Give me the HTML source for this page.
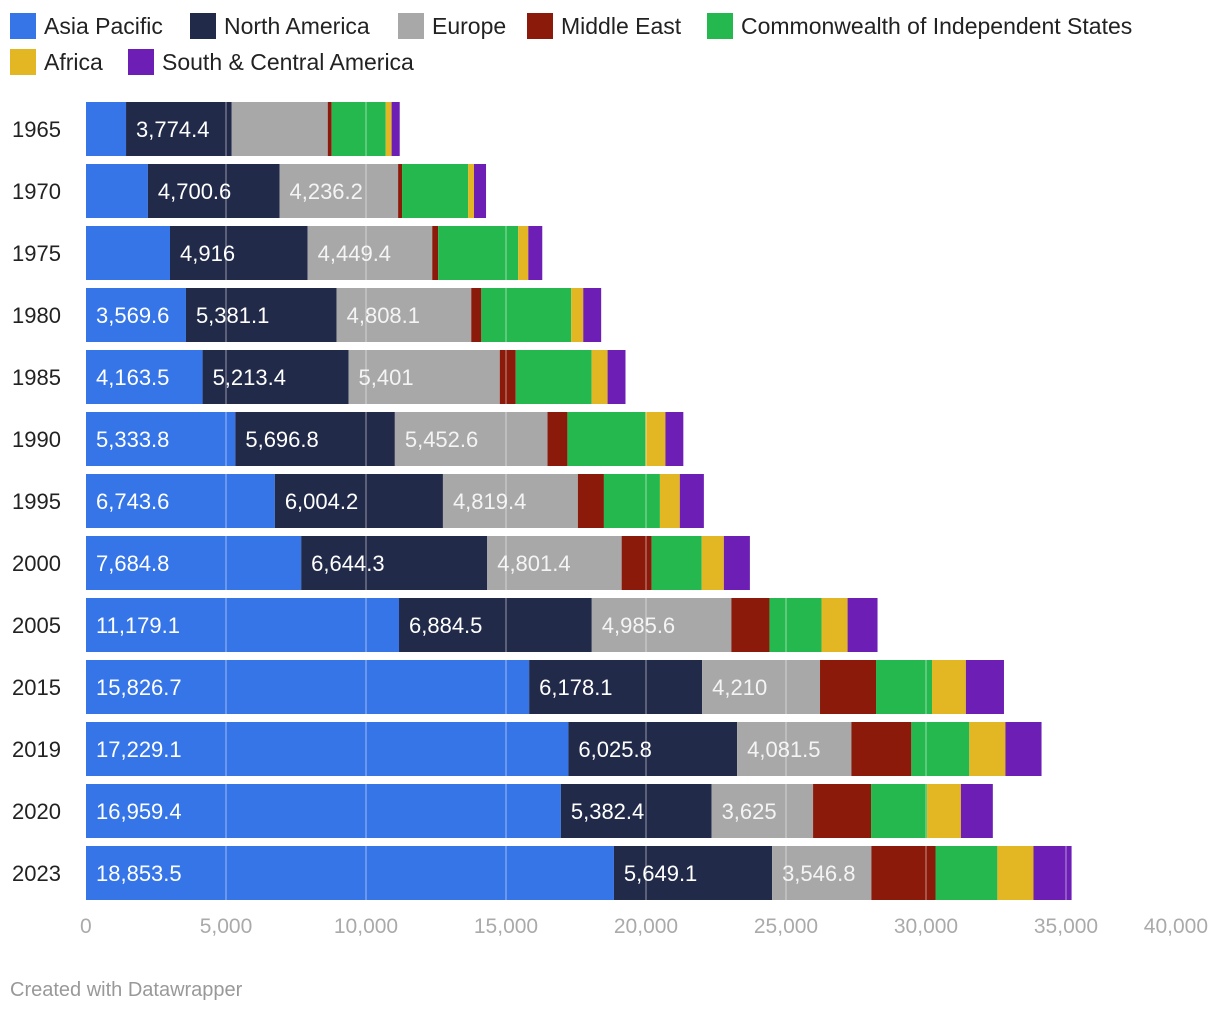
<!DOCTYPE html>
<html><head><meta charset="utf-8">
<style>
body{margin:0;background:#fff;font-family:"Liberation Sans",Arial,sans-serif;}
svg text{font-family:"Liberation Sans",Arial,sans-serif;}
</style></head>
<body>
<svg id="chart" width="1220" height="1014" xmlns="http://www.w3.org/2000/svg"></svg>
<script>
const years = ["1965","1970","1975","1980","1985","1990","1995","2000","2005","2015","2019","2020","2023"];
const seriesNames = ["Asia Pacific","North America","Europe","Middle East","Commonwealth of Independent States","Africa","South & Central America"];
const asiaPacific = [1430,2210,3000,3569.6,4163.5,5333.8,6743.6,7684.8,11179.1,15826.7,17229.1,16959.4,18853.5];
const northAmerica = [3774.4,4700.6,4916,5381.1,5213.4,5696.8,6004.2,6644.3,6884.5,6178.1,6025.8,5382.4,5649.1];
const europe = [3430,4236.2,4449.4,4808.1,5401,5452.6,4819.4,4801.4,4985.6,4210,4081.5,3625,3546.8];
const middleEast = [140,140,210,360,570,710,930,1070,1360,2000,2140,2070,2290];
const cis = [1930,2360,2860,3210,2710,2790,2000,1790,1860,2000,2070,2000,2210];
const africa = [210,210,360,430,570,710,710,790,930,1210,1290,1210,1290];
const southCentral = [290,430,500,640,640,640,860,930,1070,1360,1290,1140,1360];
const xTicks = [0,5000,10000,15000,20000,25000,30000,35000,40000];

const series = [asiaPacific,northAmerica,europe,middleEast,cis,africa,southCentral];
const colors = ["#3575e8","#222a4a","#a8a8a8","#8b1a0a","#25b84f","#e3b724","#6d1fb5"];
const keys = ["asia-pacific","north-america","europe","middle-east","cis","africa","south-central-america"];
const NS="http://www.w3.org/2000/svg";
const svg=document.getElementById('chart');
const x0=86, pxPer=1120/40000;
const xs=v=>x0+v*pxPer;
const rowY=i=>102+i*62;
const barH=54;
function mk(tag,attrs,parent){const e=document.createElementNS(NS,tag);for(const k in attrs)e.setAttribute(k,attrs[k]);(parent||svg).appendChild(e);return e;}
function fmt(v){return v.toLocaleString('en-US',{maximumFractionDigits:1});}

// legend
const legPos=[[10,26],[190,26],[398,26],[527,26],[707,26],[10,62],[128,62]];
seriesNames.forEach((n,i)=>{
  const g=mk('g',{});
  
  
  const [lx,ly]=legPos[i];
  mk('rect',{x:lx,y:ly-13,width:26,height:26,fill:colors[i]},g);
  const t=mk('text',{x:lx+34,y:ly+8,'font-size':23,fill:'#222'},g);
  t.textContent=n;
});

// bars
years.forEach((yr,i)=>{
  const y=rowY(i);
  const yl=mk('text',{x:12,y:y+35,'font-size':22,fill:'#222'});
  
  
  yl.textContent=yr;
  let acc=0;
  series.forEach((s,k)=>{
    const v=s[i];
    const r=mk('rect',{x:xs(acc),y:y,width:v*pxPer,height:barH,fill:colors[k]});
    
    
    if(v*pxPer>=99 && k<3){
      const t=mk('text',{x:xs(acc)+10,y:y+35,'font-size':22,fill:k==2?'#f4f4f4':'#fff'});
      
      
      t.textContent=fmt(v);
    }
    acc+=v;
  });
});

// gridlines over bars
xTicks.forEach(v=>{
  if(v===0)return;
  const l=mk('line',{x1:xs(v),x2:xs(v),y1:96,y2:902,stroke:'#fff','stroke-opacity':0.35,'stroke-width':1.5});
  
  
});
// ticks
xTicks.forEach((v,i)=>{
  const last=i===xTicks.length-1;
  const t=mk('text',{x:xs(v),y:933,'font-size':21,fill:'#aaa','text-anchor':v===0?'start':(last?'end':'middle')});
  
  
  if(v===0)t.setAttribute('x',xs(v)-6);
  if(last)t.setAttribute('x',1208);
  t.textContent=fmt(v);
});
const cr=mk('text',{x:10,y:996,'font-size':20,fill:'#999'});


cr.textContent='Created with Datawrapper';
</script>
</body></html>
